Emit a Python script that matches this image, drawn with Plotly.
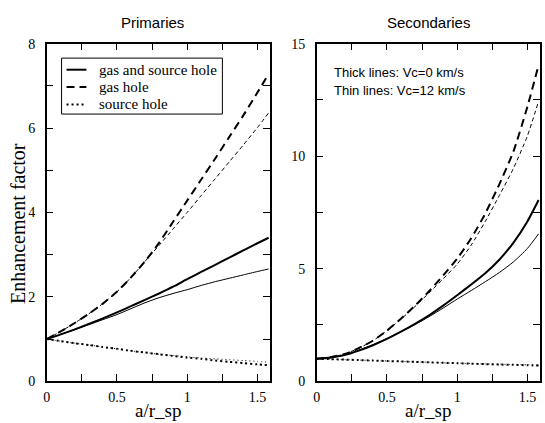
import plotly.graph_objects as go

# ---------------- data ----------------
x = [0.0, 0.1, 0.2, 0.3, 0.4, 0.5, 0.6, 0.7, 0.8, 0.9, 1.0, 1.1, 1.2, 1.3, 1.4, 1.5, 1.58]

# Primaries (thick: Vc=0, thin: Vc=12)
prim_both_thick = [1.0, 1.11, 1.23, 1.36, 1.49, 1.63, 1.78, 1.93, 2.08, 2.24, 2.42, 2.59, 2.76, 2.93, 3.10, 3.27, 3.40]
prim_both_thin  = [1.0, 1.11, 1.22, 1.34, 1.46, 1.58, 1.72, 1.86, 1.98, 2.08, 2.17, 2.27, 2.36, 2.44, 2.52, 2.60, 2.66]
prim_gas_thick  = [1.0, 1.18, 1.38, 1.60, 1.84, 2.12, 2.46, 2.84, 3.28, 3.78, 4.28, 4.78, 5.28, 5.79, 6.30, 6.84, 7.28]
prim_gas_thin   = [1.0, 1.18, 1.38, 1.60, 1.84, 2.12, 2.46, 2.84, 3.22, 3.61, 4.00, 4.40, 4.80, 5.20, 5.60, 6.01, 6.36]
prim_src_thick  = [1.0, 0.95, 0.90, 0.86, 0.81, 0.77, 0.72, 0.68, 0.64, 0.60, 0.56, 0.53, 0.49, 0.46, 0.43, 0.40, 0.38]
prim_src_thin   = [1.0, 0.95, 0.90, 0.86, 0.81, 0.77, 0.72, 0.68, 0.64, 0.61, 0.58, 0.55, 0.53, 0.51, 0.49, 0.47, 0.45]

# Secondaries
sec_both_thick = [1.0, 1.05, 1.16, 1.36, 1.60, 1.88, 2.20, 2.55, 2.93, 3.36, 3.82, 4.30, 4.80, 5.40, 6.15, 7.10, 8.05]
sec_both_thin  = [1.0, 1.05, 1.17, 1.38, 1.62, 1.90, 2.20, 2.52, 2.87, 3.25, 3.65, 4.03, 4.42, 4.83, 5.30, 5.90, 6.55]
sec_gas_thick  = [1.0, 1.07, 1.21, 1.47, 1.80, 2.25, 2.78, 3.36, 4.00, 4.70, 5.45, 6.35, 7.45, 8.75, 10.20, 12.20, 14.05]
sec_gas_thin   = [1.0, 1.07, 1.21, 1.47, 1.80, 2.25, 2.76, 3.32, 3.93, 4.55, 5.20, 6.05, 7.10, 8.25, 9.45, 10.90, 12.45]
sec_src_thick  = [1.0, 0.98, 0.96, 0.94, 0.92, 0.90, 0.88, 0.86, 0.84, 0.82, 0.80, 0.78, 0.76, 0.74, 0.73, 0.71, 0.70]
sec_src_thin   = [1.0, 0.98, 0.96, 0.94, 0.92, 0.90, 0.88, 0.86, 0.84, 0.82, 0.80, 0.79, 0.77, 0.76, 0.74, 0.73, 0.72]

legend_names = ["gas and source hole", "gas hole", "source hole"]
panel_titles = ["Primaries", "Secondaries"]
note_lines = ["Thick lines: Vc=0 km/s", "Thin lines: Vc=12 km/s"]
x_ticks = [0, 0.25, 0.5, 0.75, 1.0, 1.25, 1.5]
x_ticktext = ["0", "", "0.5", "", "1", "", "1.5"]
y1_ticks = [0, 1, 2, 3, 4, 5, 6, 7, 8]
y1_ticktext = ["0", "", "2", "", "4", "", "6", "", "8"]
y2_ticks = [0, 2.5, 5, 7.5, 10, 12.5, 15]
y2_ticktext = ["0", "", "5", "", "10", "", "15"]

SERIF = "Liberation Serif"
SANS = "Liberation Sans"

THICK = 2.0
THIN = 1.0
DASH_THICK = "8px,5px"
DASH_THIN = "4px,3px"
DOT_THICK = "2px,3px"
DOT_THIN = "1px,3px"
STYLES = [("solid", "solid"), (DASH_THICK, DASH_THIN), (DOT_THICK, DOT_THIN)]

W, H = 545, 423

fig = go.Figure()

def add(y, width, dash, xa, ya):
    fig.add_trace(go.Scatter(
        x=x, y=y, mode="lines", xaxis=xa, yaxis=ya,
        line=dict(color="black", width=width, dash=dash, shape="spline", smoothing=0.6),
        showlegend=False, hoverinfo="skip"))

prim = [(prim_both_thick, prim_both_thin), (prim_gas_thick, prim_gas_thin), (prim_src_thick, prim_src_thin)]
sec = [(sec_both_thick, sec_both_thin), (sec_gas_thick, sec_gas_thin), (sec_src_thick, sec_src_thin)]
for (thick, thin), (dthick, dthin) in zip(prim, STYLES):
    add(thick, THICK, dthick, "x", "y")
    add(thin, THIN, dthin, "x", "y")
for (thick, thin), (dthick, dthin) in zip(sec, STYLES):
    add(thick, THICK, dthick, "x2", "y2")
    add(thin, THIN, dthin, "x2", "y2")

axis_common = dict(
    showline=True, linecolor="black", linewidth=1.5, mirror="ticks",
    ticks="inside", ticklen=7, tickwidth=1, tickcolor="black",
    showgrid=False, zeroline=False,
    tickfont=dict(family=SERIF, size=14, color="black"),
)

fig.update_layout(
    width=W, height=H,
    margin=dict(l=0, r=0, t=0, b=0),
    paper_bgcolor="white", plot_bgcolor="white",
    showlegend=False,
    xaxis=dict(domain=[43 / W, 268 / W], range=[0, 1.59], anchor="y",
               tickmode="array", tickvals=x_ticks, ticktext=x_ticktext,
               ticklabelstandoff=2, **axis_common),
    yaxis=dict(domain=[(H - 388) / H, (H - 38) / H], range=[0, 8], anchor="x",
               tickmode="array", tickvals=y1_ticks, ticktext=y1_ticktext,
               ticklabelstandoff=7, **axis_common),
    xaxis2=dict(domain=[315 / W, 540 / W], range=[0, 1.59], anchor="y2",
                tickmode="array", tickvals=x_ticks, ticktext=x_ticktext,
                ticklabelstandoff=2, **axis_common),
    yaxis2=dict(domain=[(H - 388) / H, (H - 38) / H], range=[0, 15], anchor="x2",
                tickmode="array", tickvals=y2_ticks, ticktext=y2_ticktext,
                ticklabelstandoff=7, **axis_common),
)

def px(xp, yp):
    return xp / W, (H - yp) / H

annotations = []
shapes = []

def text(t, xp, yp, family, size, xanchor="center", angle=0):
    ax, ay = px(xp, yp)
    annotations.append(dict(text=t, x=ax, y=ay, xref="paper", yref="paper", showarrow=False,
                            textangle=angle, font=dict(family=family, size=size, color="black"),
                            xanchor=xanchor, yanchor="middle"))

text(panel_titles[0], 150, 16, SANS, 15)
text(panel_titles[1], 428, 16, SANS, 15)
text("Enhancement factor", 14, 224, SERIF, 20, angle=-90)
text("a/r_sp", 155, 418, SERIF, 19)
text("a/r_sp", 427, 418, SERIF, 19)
text(note_lines[0], 330, 68, SANS, 13, xanchor="left")
text(note_lines[1], 330, 87, SANS, 13, xanchor="left")

# legend box (left panel)
x0, y0 = px(58, 53)
x1, y1 = px(220, 111)
shapes.append(dict(type="rect", xref="paper", yref="paper", x0=x0, y0=y1, x1=x1, y1=y0,
                   line=dict(color="black", width=1), fillcolor="white", layer="above"))
for i, (name, (dthick, _)) in enumerate(zip(legend_names, STYLES)):
    yrow = 65 + 18 * i
    lx0, ly = px(63, yrow)
    lx1, _ = px(83, yrow)
    shapes.append(dict(type="line", xref="paper", yref="paper", x0=lx0, y0=ly, x1=lx1, y1=ly,
                       line=dict(color="black", width=THICK, dash=dthick), layer="above"))
    text(name, 94, yrow, SERIF, 15, xanchor="left")

fig.update_layout(annotations=annotations, shapes=shapes)

fig.write_html("out.html")
